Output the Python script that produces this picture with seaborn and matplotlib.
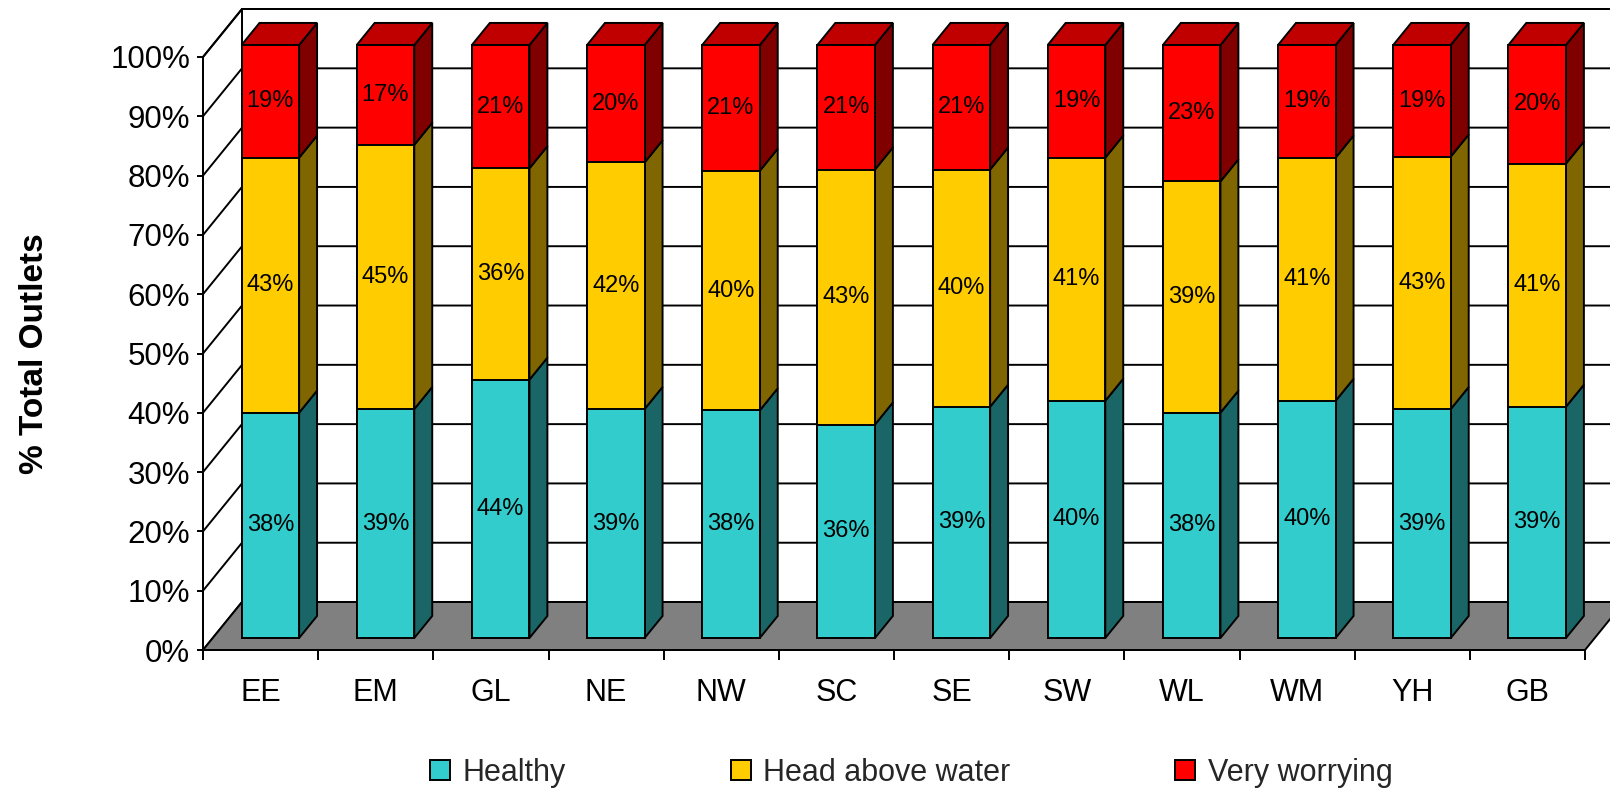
import matplotlib
matplotlib.use("Agg")
import matplotlib.pyplot as plt
from matplotlib.patches import Polygon, Patch, Rectangle
from matplotlib import font_manager
import numpy as np
import seaborn as sns

# ---- data -----------------------------------------------------------------
regions = ["EE", "EM", "GL", "NE", "NW", "SC", "SE", "SW", "WL", "WM", "YH", "GB"]
healthy = [38, 39, 44, 39, 38, 36, 39, 40, 38, 40, 39, 39]
head_above_water = [43, 45, 36, 42, 40, 43, 40, 41, 39, 41, 43, 41]
very_worrying = [19, 17, 21, 20, 21, 21, 21, 19, 23, 19, 19, 20]
series_names = ["Healthy", "Head above water", "Very worrying"]
y_ticks = [0, 10, 20, 30, 40, 50, 60, 70, 80, 90, 100]
y_tick_labels = [f"{t}%" for t in y_ticks]
y_title = "% Total Outlets"

# ---- style ----------------------------------------------------------------
front_colors = ["#33CCCC", "#FFCC00", "#FF0000"]
side_colors = ["#1A6666", "#806600", "#800000"]
top_color = "#C00000"
floor_color = "#808080"
LW = 1.4

sns.set_style("white")
installed = {f.name for f in font_manager.fontManager.ttflist}
regular = ["Liberation Sans", "DejaVu Sans"]
narrow = (["Liberation Sans Narrow"] if "Liberation Sans Narrow" in installed else []) + regular
plt.rcParams["font.family"] = regular

# oblique projection of one unit of depth, in data units
DEPTH_X = 0.3386
DEPTH_Y = 8.09
BAR_FRONT = 0.25   # depth of the bar front faces
BAR_BACK = 0.71    # depth of the bar back faces
BAR_W = 0.5

values = np.array([healthy, head_above_water, very_worrying], dtype=float)
shares = values / values.sum(axis=0) * 100.0
upper = np.cumsum(shares, axis=0)
lower = upper - shares
n = len(regions)
xpos = np.arange(n)

fig = plt.figure(figsize=(16.1, 7.9), dpi=100)
ax = fig.add_axes([203 / 1610, 140 / 790, 1382 / 1610, 650 / 790])
ylim_top = 650 / 5.93

# ---- walls and floor --------------------------------------------------------
x0, x1 = -0.5, n - 0.5
ax.add_patch(Polygon([(x0, 0), (x1, 0), (x1 + DEPTH_X, DEPTH_Y), (x0 + DEPTH_X, DEPTH_Y)],
                     closed=True, facecolor=floor_color, edgecolor="black",
                     linewidth=LW, clip_on=False, zorder=0.5))
ax.add_patch(Rectangle((x0 + DEPTH_X, DEPTH_Y), n, 100, facecolor="white",
                       edgecolor="black", linewidth=LW, clip_on=False, zorder=0.4))
ax.add_patch(Polygon([(x0, 0), (x0 + DEPTH_X, DEPTH_Y), (x0 + DEPTH_X, 100 + DEPTH_Y), (x0, 100)],
                     closed=True, facecolor="white", edgecolor="black",
                     linewidth=LW, clip_on=False, zorder=0.4))
for v in y_ticks[1:]:
    ax.plot([x0, x0 + DEPTH_X, x1 + DEPTH_X], [v, v + DEPTH_Y, v + DEPTH_Y],
            color="black", linewidth=LW, clip_on=False, zorder=0.6)

# ---- bars: side and top faces ----------------------------------------------
for i in range(n):
    xr = xpos[i] + BAR_W / 2
    xl = xpos[i] - BAR_W / 2
    for k in range(3):
        y0, y1 = lower[k, i], upper[k, i]
        ax.add_patch(Polygon([(xr + BAR_FRONT * DEPTH_X, y0 + BAR_FRONT * DEPTH_Y),
                              (xr + BAR_BACK * DEPTH_X, y0 + BAR_BACK * DEPTH_Y),
                              (xr + BAR_BACK * DEPTH_X, y1 + BAR_BACK * DEPTH_Y),
                              (xr + BAR_FRONT * DEPTH_X, y1 + BAR_FRONT * DEPTH_Y)],
                             closed=True, facecolor=side_colors[k], edgecolor="black",
                             linewidth=LW, clip_on=False, zorder=2))
    yt = upper[2, i]
    ax.add_patch(Polygon([(xl + BAR_FRONT * DEPTH_X, yt + BAR_FRONT * DEPTH_Y),
                          (xr + BAR_FRONT * DEPTH_X, yt + BAR_FRONT * DEPTH_Y),
                          (xr + BAR_BACK * DEPTH_X, yt + BAR_BACK * DEPTH_Y),
                          (xl + BAR_BACK * DEPTH_X, yt + BAR_BACK * DEPTH_Y)],
                         closed=True, facecolor=top_color, edgecolor="black",
                         linewidth=LW, clip_on=False, zorder=2))

# ---- bars: front faces (stacked, drawn top series first) --------------------
front_x = xpos + BAR_FRONT * DEPTH_X
for k in reversed(range(3)):
    sns.barplot(x=front_x, y=upper[k], native_scale=True, orient="x", width=BAR_W,
                color=front_colors[k], saturation=1, errorbar=None,
                bottom=BAR_FRONT * DEPTH_Y, edgecolor="black", linewidth=LW,
                zorder=3, ax=ax)

for i in range(n):
    for k, series in enumerate([healthy, head_above_water, very_worrying]):
        ax.text(front_x[i], (lower[k, i] + upper[k, i]) / 2 + BAR_FRONT * DEPTH_Y,
                f"{series[i]}%", ha="center", va="center", fontsize=17,
                family=narrow, color="black", zorder=4)

# ---- axes -------------------------------------------------------------------
ax.set_xlim(x0, x1)
ax.set_ylim(0, ylim_top)
for side in ("top", "right"):
    ax.spines[side].set_visible(False)
ax.spines["left"].set_bounds(0, 100)
for side in ("left", "bottom"):
    ax.spines[side].set_color("black")
    ax.spines[side].set_linewidth(LW)
    ax.spines[side].set_zorder(2.5)

ax.set_yticks(y_ticks, y_tick_labels)
ax.tick_params(axis="y", left=True, direction="out", length=4.3, width=LW,
               color="black", pad=5, labelsize=22.5, labelcolor="black")
ax.set_xticks(xpos, regions)
ax.set_xticks(np.arange(n + 1) - 0.5, minor=True)
ax.tick_params(axis="x", which="major", bottom=True, length=0, pad=20.5, labelcolor="black")
ax.tick_params(axis="x", which="minor", bottom=True, direction="out", length=7.2,
               width=LW, color="black")
for lab in ax.get_xticklabels():
    lab.set_fontfamily(narrow)
    lab.set_fontsize(22)
ax.set_xlabel("")
ax.set_ylabel(y_title, fontsize=24, fontweight="bold", color="black")
ax.yaxis.set_label_coords((35 - 203) / 1382, (650 - 354) / 650)
ax.yaxis.label.set_verticalalignment("center")
ax.patch.set_visible(False)

handles = [Patch(facecolor=c, edgecolor="black", linewidth=LW) for c in front_colors]
fig.legend(handles, series_names, loc="center", bbox_to_anchor=(0.566, 0.022),
           ncol=3, frameon=False, fontsize=22, handlelength=0.66, handleheight=0.66,
           handletextpad=0.4, columnspacing=5.4, borderpad=0)

fig.savefig("out.png", dpi=100)
